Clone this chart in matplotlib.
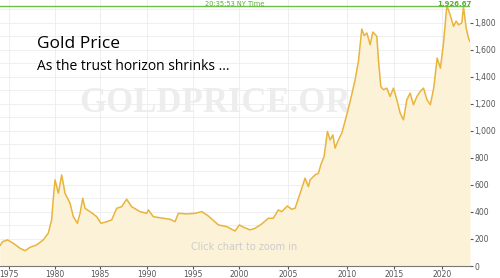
import numpy as np
import matplotlib
matplotlib.use("Agg")
import matplotlib.pyplot as plt
from matplotlib.ticker import FuncFormatter, MultipleLocator

# gold price (USD/oz)
years = [1974.0, 1974.3, 1974.83, 1975.47, 1976.2, 1976.74, 1977.28, 1978.0, 1978.72,
         1979.26, 1979.63, 1979.8, 1980.0, 1980.37, 1980.74, 1981.11, 1981.67, 1982.03,
         1982.48, 1982.78, 1983.08, 1983.33, 1983.89, 1984.63, 1985.1, 1985.71, 1986.24,
         1986.77, 1987.3, 1987.83, 1988.36, 1989.25, 1989.96, 1990.14, 1990.68, 1991.77,
         1992.5, 1993.04, 1993.4, 1994.32, 1995.22, 1995.95, 1996.66, 1997.75, 1998.67,
         1999.57, 2000.03, 2000.44, 2001.12, 2001.63, 2002.31, 2002.98, 2003.49, 2004.0,
         2004.35, 2004.92, 2005.31, 2005.59, 2006.02, 2006.44, 2006.72, 2006.86, 2007.29,
         2007.57, 2007.77, 2008.05, 2008.33, 2008.56, 2008.79, 2008.98, 2009.26, 2009.55,
         2009.97, 2010.32, 2010.85, 2011.2, 2011.56, 2011.81, 2012.1, 2012.45, 2012.73,
         2013.16, 2013.33, 2013.58, 2013.86, 2014.22, 2014.57, 2014.93, 2015.28, 2015.63,
         2015.97, 2016.32, 2016.67, 2017.01, 2017.37, 2017.71, 2018.06, 2018.42, 2018.77,
         2019.12, 2019.48, 2019.82, 2020.14, 2020.49, 2020.83, 2021.18, 2021.46, 2021.7,
         2022.05, 2022.22, 2022.5, 2022.74, 2022.9]
prices = [150, 180, 193, 168, 131, 113, 138, 156, 193,
          242, 341, 489, 637, 538, 674, 538, 464, 365,
          316, 390, 501, 427, 402, 365, 316, 328, 341,
          427, 439, 494, 439, 402, 390, 415, 365, 353,
          346, 328, 390, 385, 390, 402, 370, 304, 291,
          259, 304, 287, 267, 279, 311, 353, 353, 415,
          402, 444, 420, 427, 538, 650, 587, 637, 674,
          686, 748, 810, 995, 933, 970, 872, 933, 983,
          1119, 1217, 1378, 1513, 1753, 1704, 1724, 1637, 1731,
          1699, 1526, 1328, 1304, 1316, 1254, 1316, 1230, 1131,
          1081, 1230, 1279, 1193, 1254, 1291, 1316, 1230, 1193,
          1316, 1538, 1464, 1649, 1926.67, 1859, 1773, 1812, 1785,
          1798, 1920, 1761, 1687, 1661]
high = 1926.67
tick_years = [1975, 1980, 1985, 1990, 1995, 2000, 2005, 2010, 2015, 2020]

# the original time axis is not quite even, map years onto it piecewise
scale_years = [1970] + tick_years + [2025]
scale_pos = [-37, 9, 55, 100, 147, 193, 239, 288, 347, 394, 442, 490]

def fwd(v):
    return np.interp(v, scale_years, scale_pos)

def inv(v):
    return np.interp(v, scale_pos, scale_years)

fig = plt.figure(figsize=(5, 2.78), dpi=100)
ax = fig.add_axes([0, 12 / 278, 0.94, 266 / 278])
ax.set_xscale('function', functions=(fwd, inv))
ax.set_xlim(1974.02, 2022.9)
ax.set_ylim(0, 1968)

# watermark sits behind the data
ax.text(229 / 470, 0.61, 'GOLDPRICE.ORG', transform=ax.transAxes, ha='center', va='center',
        fontsize=25, fontweight='bold', family='Liberation Serif', color='#ededed', zorder=0.5)

ax.fill_between(years, prices, color='#fcf2d7', lw=0, zorder=1)
ax.plot(years, prices, color='#e8b43c', lw=1.1, zorder=3)
ax.axhline(high, color='#6cc04a', lw=1, zorder=4)

ax.set_xticks(tick_years)
ax.set_xticklabels([str(y) for y in tick_years])
ax.yaxis.set_major_locator(MultipleLocator(200))
ax.yaxis.set_minor_locator(MultipleLocator(100))
ax.yaxis.set_major_formatter(FuncFormatter(lambda v, p: f'{int(v):,}'))
ax.yaxis.tick_right()
ax.tick_params(axis='y', which='major', labelsize=5.5, colors='#555555', length=2, pad=1, width=0.8)
ax.tick_params(axis='y', which='minor', length=0)
ax.tick_params(axis='x', labelsize=5.5, colors='#555555', length=2, pad=1, width=0.8)
ax.grid(True, which='both', axis='y', color='#ececec', lw=0.6, zorder=0)
ax.grid(True, axis='x', color='#ececec', lw=0.6, zorder=0)
ax.set_axisbelow(True)
for s in ['top', 'left', 'right']:
    ax.spines[s].set_visible(False)
ax.spines['bottom'].set_color('#777777')
ax.spines['bottom'].set_linewidth(0.8)

ax.text(0.52, 0.07, 'Click chart to zoom in', transform=ax.transAxes, ha='center', va='center',
        fontsize=7, color='#cccccc', zorder=2)
ax.text(0.5, high - 8, '20:35:53 NY Time', transform=ax.get_yaxis_transform(),
        ha='center', va='bottom', fontsize=4.8, color='#55b030', zorder=5)
ax.text(2021.3, high - 8, '1,926.67', ha='center', va='bottom', fontsize=5,
        fontweight='bold', color='#55b030', zorder=5)

fig.text(37 / 500, 1 - 44 / 278, 'Gold Price', ha='left', va='center', fontsize=12.5,
         family='Open Sans', color='black')
fig.text(37 / 500, 1 - 66 / 278, 'As the trust horizon shrinks ...', ha='left', va='center',
         fontsize=10, family='Open Sans', color='black')

fig.savefig('out.png', dpi=100)
